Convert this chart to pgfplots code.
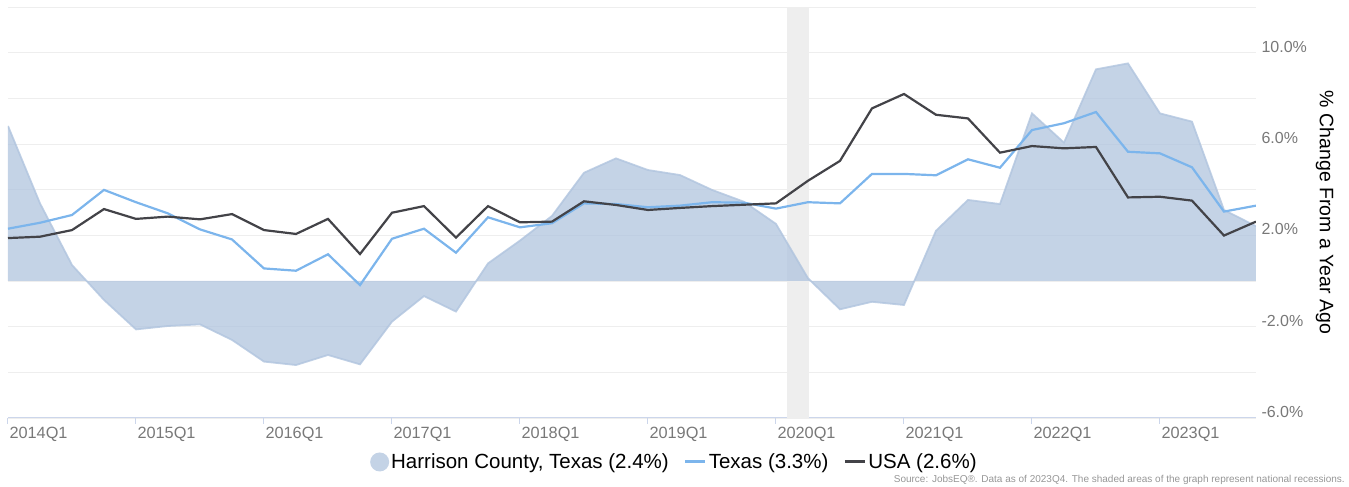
\documentclass[border=0pt]{standalone}
\usepackage{pgfplots}
\usepackage{pgfplotstable}
\pgfplotsset{compat=1.18}
\usepackage{fontspec}
\setmainfont{Liberation Sans}
\definecolor{areafill}{RGB}{176,196,222}
\definecolor{txblue}{RGB}{124,181,236}
\definecolor{usagray}{RGB}{67,67,72}
\definecolor{axisblue}{RGB}{204,214,235}
\definecolor{gridc}{RGB}{238,238,238}
\definecolor{recess}{RGB}{238,238,238}
\definecolor{ticktext}{RGB}{120,120,120}
\definecolor{srctext}{RGB}{150,150,150}

\pgfplotstableread{
q  harrison texas usa
0   6.79  2.29 1.88
1   3.40  2.55 1.94
2   0.70  2.89 2.23
3  -0.83  3.99 3.15
4  -2.12  3.45 2.72
5  -1.97  2.96 2.82
6  -1.90  2.26 2.70
7  -2.58  1.82 2.93
8  -3.53  0.55 2.23
9  -3.68  0.45 2.06
10 -3.24  1.17 2.72
11 -3.65 -0.18 1.18
12 -1.78  1.85 2.99
13 -0.66  2.29 3.28
14 -1.34  1.24 1.90
15  0.77  2.79 3.28
16  1.77  2.35 2.57
17  2.85  2.53 2.60
18  4.74  3.40 3.49
19  5.37  3.37 3.33
20  4.86  3.23 3.11
21  4.64  3.30 3.20
22  3.99  3.45 3.28
23  3.47  3.43 3.34
24  2.50  3.17 3.40
25  0.12  3.45 4.39
26 -1.24  3.40 5.26
27 -0.91  4.69 7.56
28 -1.05  4.69 8.19
29  2.20  4.63 7.28
30  3.55  5.33 7.12
31  3.37  4.96 5.62
32  7.34  6.61 5.91
33  6.06  6.91 5.81
34  9.27  7.40 5.87
35  9.53  5.66 3.66
36  7.34  5.59 3.69
37  6.98  4.98 3.52
38  3.11  3.04 1.99
39  2.40  3.30 2.60
}\datatable

\begin{document}
\begin{tikzpicture}
\useasboundingbox (0,0) rectangle (1349pt,487pt);
\begin{axis}[
  at={(8pt,69pt)}, anchor=south west,
  scale only axis, width=1248pt, height=411pt,
  xmin=0, xmax=39, ymin=-6, ymax=12,
  axis x line*=bottom,
  axis y line*=right,
  y axis line style={draw=none},
  x axis line style={draw=axisblue, line width=1pt},
  xtick={0,4,8,12,16,20,24,28,32,36},
  xticklabels={2014Q1,2015Q1,2016Q1,2017Q1,2018Q1,2019Q1,2020Q1,2021Q1,2022Q1,2023Q1},
  x tick style={draw=axisblue, line width=1pt},
  major tick length=6pt,
  tick align=outside,
  xticklabel style={anchor=north west, xshift=-2pt, font=\fontsize{16.3}{19}\selectfont, text=ticktext},
  ytick={-6,-2,2,6,10},
  yticklabels={-6.0\%,-2.0\%,2.0\%,6.0\%,10.0\%},
  minor ytick={-4,0,4,8,12},
  y tick style={draw=none},
  yticklabel style={anchor=west, xshift=-4pt, yshift=6pt, font=\fontsize{16}{19}\selectfont, text=ticktext},
  /pgf/number format/assume math mode=true,
  ymajorgrids, yminorgrids,
  major grid style={draw=gridc, line width=0.8pt},
  minor grid style={draw=gridc, line width=0.8pt},
  every axis y label/.style={at={(axis description cs:1.0553,0.5)}, anchor=center, rotate=-90},
  ylabel={\fontsize{19.5}{22}\selectfont \% Change From a Year Ago},
  legend style={at={(axis description cs:0.534,-0.107)}, anchor=center, draw=none, fill=none,
    legend columns=3, font=\fontsize{20.5}{24}\selectfont,
    /tikz/every even column/.append style={column sep=13pt},
    legend cell align=left, inner sep=0pt},
  clip=true,
]
% national recession shading
\addplot[fill=recess, draw=none, forget plot] coordinates {(24.35,-6) (24.35,12) (25.02,12) (25.02,-6)} -- cycle;
% Harrison County area
\addplot[fill=areafill, fill opacity=0.75, draw=none,
  legend image code/.code={\fill[areafill] (6pt,0pt) circle (9.5pt);}]
  table[x=q, y=harrison] {\datatable} \closedcycle;
\addlegendentry{Harrison County, Texas (2.4\%)}
\addplot[draw=areafill, draw opacity=0.8, line width=1.8pt, forget plot]
  table[x=q, y=harrison] {\datatable};
% Texas
\addplot[draw=txblue, line width=2.2pt,
  legend image code/.code={\draw[txblue, line width=3pt] (0pt,0pt) -- (20pt,0pt);}]
  table[x=q, y=texas] {\datatable};
\addlegendentry{Texas (3.3\%)}
% USA
\addplot[draw=usagray, line width=2.2pt,
  legend image code/.code={\draw[usagray, line width=3pt] (0pt,0pt) -- (20pt,0pt);}]
  table[x=q, y=usa] {\datatable};
\addlegendentry{USA (2.6\%)}
\end{axis}
\node[anchor=east, inner sep=0pt, text=srctext, font=\fontsize{10}{12}\selectfont]
  at (1345pt,7pt)
  {Source: JobsEQ®. Data as of 2023Q4. The shaded areas of the graph represent national recessions.};
\end{tikzpicture}
\end{document}
